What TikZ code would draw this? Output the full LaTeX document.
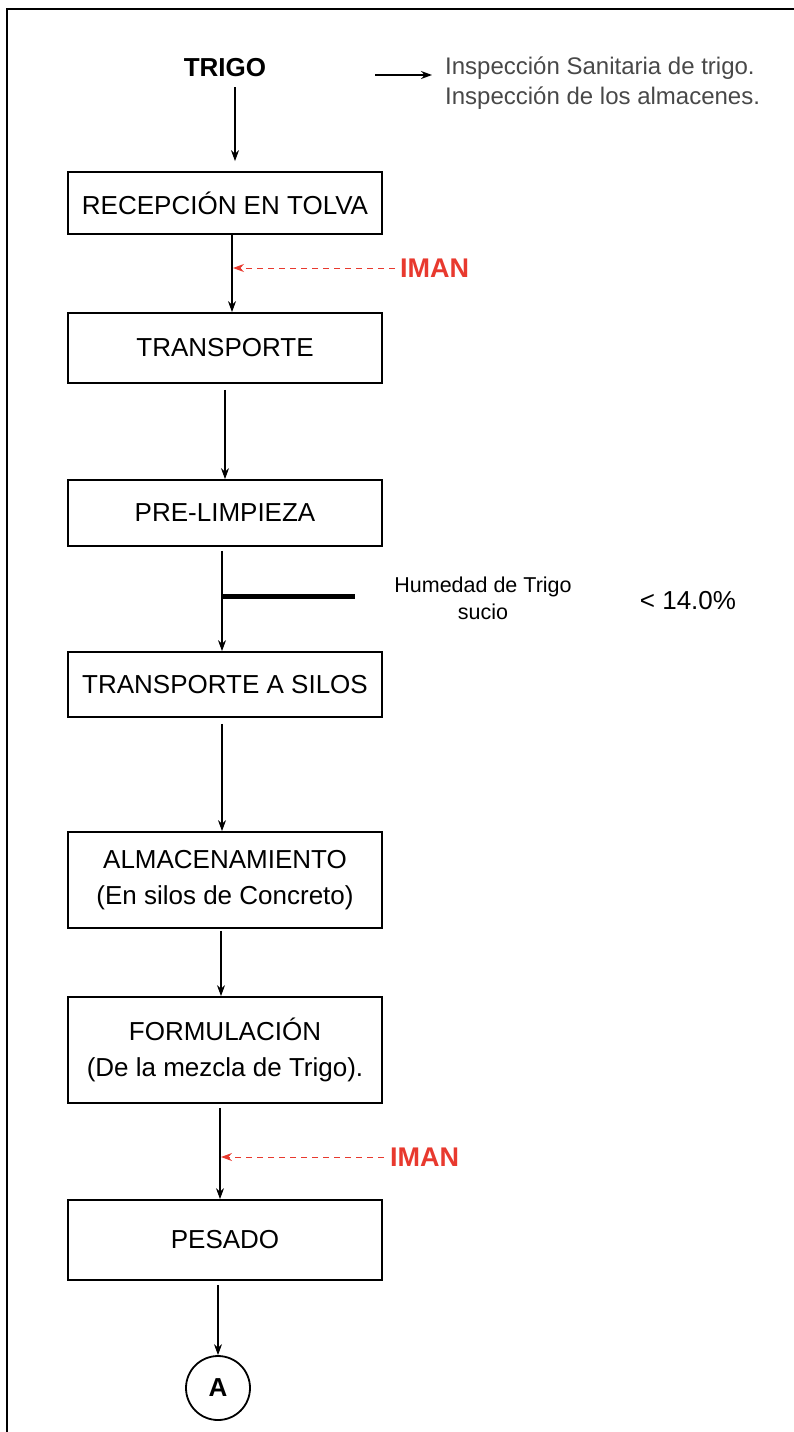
\documentclass[tikz,border=0pt]{standalone}
\usepackage{fontspec}
\setmainfont{Liberation Sans}
\usetikzlibrary{arrows.meta}
\definecolor{imanred}{RGB}{232,57,46}
\definecolor{notegray}{RGB}{72,72,72}
\begin{document}
\begin{tikzpicture}[x=1pt,y=-1pt,
  stepbox/.style={draw, line width=1.8pt, minimum width=314pt, inner sep=0pt,
    align=center, font=\fontsize{26}{36}\selectfont},
  flow/.style={line width=1.1pt, -{Stealth[length=11pt,width=8pt]}},
  magnet/.style={imanred, line width=1pt, dash pattern=on 6pt off 5pt,
    -{Stealth[length=11pt,width=8pt]}},
  magnetlabel/.style={text=imanred, anchor=west, inner sep=0pt,
    font=\fontsize{27}{30}\selectfont\bfseries},
]
\useasboundingbox (0,0) rectangle (794,1432);
% page frame
\draw[line width=1.5pt] (7,1432) -- (7,9) -- (794,9);

% raw material and inspection note
\node[font=\fontsize{26}{30}\selectfont\bfseries, inner sep=0pt] (trigo) at (225,68) {TRIGO};
\coordinate (noteA) at (375,75);
\coordinate (noteB) at (432,75);
\node[anchor=west, align=left, text=notegray, inner sep=0pt,
  font=\fontsize{24}{30}\selectfont] (note) at (445,83)
  {Inspección Sanitaria de trigo.\\Inspección de los almacenes.};
\draw[line width=1.3pt, -{Stealth[length=11pt,width=8pt]}] (noteA) -- (noteB);

% process steps
\node[stepbox, minimum height=62pt] (b1) at (225,203) {RECEPCIÓN EN TOLVA};
\node[stepbox, minimum height=70pt] (b2) at (225,348) {TRANSPORTE};
\node[stepbox, minimum height=66pt] (b3) at (225,513) {PRE-LIMPIEZA};
\node[stepbox, minimum height=65pt] (b4) at (225,684.5) {TRANSPORTE A SILOS};
\node[stepbox, minimum height=96pt] (b5) at (225,880) {ALMACENAMIENTO\\(En silos de Concreto)};
\node[stepbox, minimum height=106pt] (b6) at (225,1050) {FORMULACIÓN\\(De la mezcla de Trigo).};
\node[stepbox, minimum height=80pt] (b7) at (225,1240) {PESADO};
\node[draw, circle, line width=1.8pt, minimum size=64pt, inner sep=0pt,
  font=\fontsize{26}{28}\selectfont\bfseries] (conA) at (218,1388) {A};

% flow connectors
\draw[flow, shorten <=10pt, shorten >=10pt] ([xshift=10pt]trigo.south) -- ([xshift=10pt]b1.north);
\draw[flow] ([xshift=7pt]b1.south) -- ([xshift=7pt]b2.north);
\draw[flow, shorten <=6pt] (b2.south) -- (b3.north);
\draw[flow, shorten <=4pt] ([xshift=-3pt]b3.south) -- ([xshift=-3pt]b4.north);
\draw[flow, shorten <=6pt] ([xshift=-3pt]b4.south) -- ([xshift=-3pt]b5.north);
\draw[flow, shorten <=2pt] ([xshift=-4pt]b5.south) -- ([xshift=-4pt]b6.north);
\draw[flow, shorten <=4pt] ([xshift=-5pt]b6.south) -- ([xshift=-5pt]b7.north);
\draw[flow, shorten <=4pt] ([xshift=-7pt]b7.south) -- (conA.north);

% magnets
\node[magnetlabel] (iman1) at (400,268) {IMAN};
\coordinate (m1) at (233,268);
\draw[magnet] ([xshift=-5pt]iman1.west) -- (m1);
\node[magnetlabel] (iman2) at (390,1157) {IMAN};
\coordinate (m2) at (221,1157);
\draw[magnet] ([xshift=-6pt]iman2.west) -- (m2);

% moisture check
\coordinate (barA) at (222,596);
\coordinate (barB) at (355,596);
\draw[line width=5pt] (barA) -- (barB);
\node[align=center, inner sep=0pt, font=\fontsize{21.5}{27}\selectfont] (hum) at (483,598)
  {Humedad de Trigo\\sucio};
\node[inner sep=0pt, font=\fontsize{26}{30}\selectfont] (limit) at (688,601) {< 14.0\%};
\end{tikzpicture}
\end{document}
